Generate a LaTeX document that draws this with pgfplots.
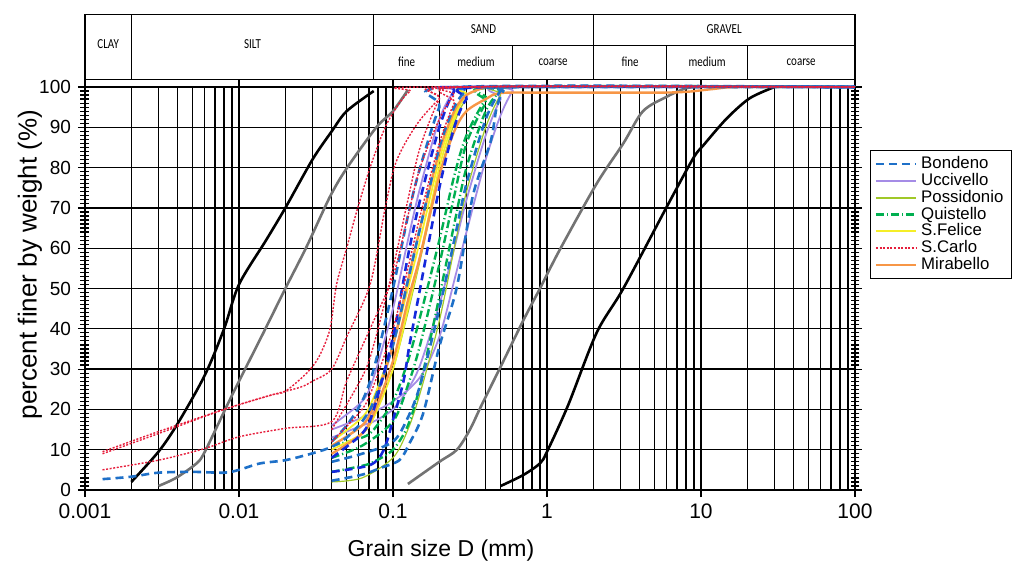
\documentclass[border=0pt]{standalone}
\usepackage{fontspec}
\setmainfont{Liberation Sans}
\newfontfamily\hdrfont{Carlito}
\usepackage{graphicx}
\usepackage{pgfplots}
\pgfplotsset{compat=1.18}
\definecolor{cBon}{RGB}{30,112,200}
\definecolor{cBonDk}{RGB}{20,40,220}
\definecolor{cUcc}{RGB}{165,140,230}
\definecolor{cPos}{RGB}{160,200,40}
\definecolor{cQui}{RGB}{0,175,80}
\definecolor{cSfe}{RGB}{245,238,40}
\definecolor{cSca}{RGB}{230,30,60}
\definecolor{cMir}{RGB}{247,150,70}
\definecolor{cGray}{RGB}{115,115,115}
\tikzset{
 sBon/.style={color=cBon, line width=1.3pt, dash pattern=on 4pt off 2.5pt},
 sBonDk/.style={color=cBonDk, line width=1.3pt, dash pattern=on 4pt off 2.5pt},
 sUcc/.style={color=cUcc, line width=0.9pt},
 sPos/.style={color=cPos, line width=0.6pt},
 sQui/.style={color=cQui, line width=1.2pt, dash pattern=on 4pt off 1.5pt on 0.6pt off 1.5pt},
 sSfe/.style={color=cSfe, line width=0.9pt},
 sSca/.style={color=cSca, line width=0.7pt, dash pattern=on 1pt off 0.8pt},
 sMir/.style={color=cMir, line width=1.2pt},
}
\newcommand{\hdr}[1]{{\hdrfont\fontsize{5.5}{6}\selectfont\scalebox{1}[1.25]{#1}}}
\begin{document}
\begin{tikzpicture}
\begin{axis}[
  scale only axis, width=385pt, height=201.5pt,
  xmode=log, xmin=0.001, xmax=100, ymin=0, ymax=100,
  clip=false,
  xtick={0.001,0.01,0.1,1,10,100},
  xticklabels={0.001,0.01,0.1,1,10,100},
  ytick={0,10,...,100},
  extra y ticks={1,2,...,99},
  extra y tick labels={},
  extra y tick style={ymajorgrids=false, major tick length=4.5pt},
  xmajorgrids, xminorgrids, ymajorgrids,
  major grid style={black, line width=0.65pt},
  minor grid style={black, line width=0.65pt},
  tick align=center, major tick length=7pt, minor tick length=0pt,
  tick style={black, line width=0.6pt},
  axis line style={black, line width=0.8pt},
  /pgf/number format/assume math mode=true,
  yticklabel style={font=\fontsize{9.5}{11}\selectfont},
  xticklabel style={font=\fontsize{10.5}{12}\selectfont},
  xlabel={Grain size D (mm)},
  ylabel={percent finer by weight (\%)},
  xlabel style={font=\fontsize{11.5}{13}\selectfont, at={(axis description cs:0.5,0)}, anchor=center, yshift=-30.5pt, xshift=-14.5pt},
  ylabel style={font=\fontsize{13}{15}\selectfont, at={(axis description cs:0,0.5)}, anchor=center, rotate=0, yshift=27.5pt, xshift=12pt},
  no markers,
  legend style={at={(axis description cs:1.0195,0.8437)}, anchor=north west,
    font=\fontsize{8.4}{8.4}\selectfont, draw=black, line width=0.6pt,
    inner xsep=2pt, inner ysep=1pt, row sep=-3.2pt, cells={anchor=west}},
  legend image code/.code={\draw[#1] (0pt,0pt) -- (20pt,0pt);},
]
\addlegendimage{sBon}\addlegendentry{Bondeno}
\addlegendimage{sUcc, line width=1.2pt}\addlegendentry{Uccivello}
\addlegendimage{sPos, line width=0.8pt}\addlegendentry{Possidonio}
\addlegendimage{sQui}\addlegendentry{Quistello}
\addlegendimage{sSfe, line width=1pt}\addlegendentry{S.Felice}
\addlegendimage{sSca}\addlegendentry{S.Carlo}
\addlegendimage{sMir}\addlegendentry{Mirabello}

% boundary curves
\addplot[black, line width=1.3pt, smooth, tension=0.5, forget plot] coordinates {
(0.002,2)(0.003,9.5)(0.004,16.5)(0.006,28.5)(0.008,40)(0.01,51)(0.015,62)(0.02,70)(0.03,82)(0.04,89)(0.05,94)(0.075,99)};
\addplot[cGray, line width=1.3pt, smooth, tension=0.5, forget plot] coordinates {
(0.003,1)(0.0039,3)(0.0053,6.6)(0.006,9.5)(0.0083,20.7)(0.01,27)(0.0144,39)(0.02,50)(0.0275,60.4)(0.039,72.8)(0.05,79.8)(0.078,90)(0.1,94)(0.125,99.3)};
\addplot[cGray, line width=1.3pt, smooth, tension=0.5, forget plot] coordinates {
(0.125,1.5)(0.2,7)(0.26,10)(0.316,15)(0.37,20.5)(0.5,30.6)(0.7,42)(0.9,50)(1.21,59.6)(2.1,76)(3.13,86)(4.2,94)(6,97.6)(8,99.7)(10,100)};
\addplot[black, line width=1.3pt, smooth, tension=0.5, forget plot] coordinates {
(0.5,1)(0.7,3.7)(0.9,6.6)(1,9.5)(1.37,21)(2.1,39)(3.13,50)(6,70.3)(8.9,82.3)(10.4,85.6)(14.7,92.2)(20.7,97.2)(30,100)};

% Uccivello
\addplot[sUcc, smooth, tension=0.5, forget plot] coordinates {
(0.04,13)(0.063,16)(0.075,17)(0.1,20)(0.125,25)(0.15,31)(0.2,46)(0.25,60)(0.3,72)(0.4,88)(0.5,97)(0.6,100)(100,100)};
\addplot[sUcc, smooth, tension=0.5, forget plot] coordinates {
(0.04,15)(0.063,18)(0.1,22)(0.15,28)(0.2,38)(0.25,52)(0.3,64)(0.4,82)(0.5,93)(0.6,99)(0.7,100)(100,100)};
\addplot[sUcc, smooth, tension=0.5, forget plot] coordinates {
(0.04,16)(0.063,22)(0.075,28)(0.1,45)(0.125,62)(0.15,75)(0.2,92)(0.25,99)(0.3,100)(100,100)};
% Possidonio
\addplot[sPos, smooth, tension=0.5, forget plot] coordinates {
(0.04,2)(0.063,3)(0.1,8)(0.125,15)(0.15,24)(0.2,42)(0.25,60)(0.3,74)(0.4,90)(0.5,98)(0.6,100)(100,100)};
\addplot[sPos, smooth, tension=0.5, forget plot] coordinates {
(0.04,9)(0.063,14)(0.075,18)(0.1,30)(0.125,44)(0.15,57)(0.2,78)(0.25,91)(0.3,97)(0.4,100)(100,100)};
% Quistello
\addplot[sQui, smooth, tension=0.5, forget plot] coordinates {
(0.04,4.5)(0.063,6)(0.075,7)(0.1,10)(0.125,16)(0.15,26)(0.2,48)(0.25,66)(0.3,80)(0.4,94)(0.5,99)(0.6,100)(100,100)};
\addplot[sQui, smooth, tension=0.5, forget plot] coordinates {
(0.04,11)(0.063,13)(0.075,15)(0.1,22)(0.125,32)(0.15,43)(0.2,62)(0.25,78)(0.3,88)(0.4,97)(0.5,100)(100,100)};
\addplot[sQui, smooth, tension=0.5, forget plot] coordinates {
(0.04,8)(0.063,11)(0.1,17)(0.125,26)(0.15,36)(0.2,56)(0.25,73)(0.3,86)(0.4,96)(0.5,100)(100,100)};
% S.Felice
\addplot[sSfe, smooth, tension=0.5, forget plot] coordinates {
(0.04,12)(0.063,18)(0.075,23)(0.1,36)(0.125,50)(0.15,62)(0.2,82)(0.25,93)(0.3,98)(0.4,100)(100,100)};
\addplot[sSfe, smooth, tension=0.5, forget plot] coordinates {
(0.04,10)(0.063,14)(0.075,18)(0.1,30)(0.125,45)(0.15,58)(0.2,80)(0.25,92)(0.3,98)(0.4,100)(100,100)};
% Mirabello
\addplot[sMir, smooth, tension=0.5, forget plot] coordinates {
(0.04,9)(0.063,14)(0.075,19)(0.1,32)(0.125,47)(0.15,58)(0.2,78)(0.25,89)(0.3,94)(0.4,97)(0.5,98.5)(1,98.6)(5,98.6)(8,98.8)(12,99.5)(18,100)(100,100)};
\addplot[sMir, smooth, tension=0.5, forget plot] coordinates {
(0.04,11)(0.063,16)(0.075,21)(0.1,36)(0.125,52)(0.15,65)(0.2,84)(0.25,94)(0.3,98)(0.4,100)};
% Bondeno
\addplot[sBon, smooth, tension=0.5, forget plot] coordinates {
(0.0013,2.7)(0.002,3.3)(0.003,4.3)(0.005,4.5)(0.008,4.3)(0.01,5)(0.0137,6.6)(0.02,7.4)(0.03,9.1)(0.04,10.7)(0.05,13)(0.063,17)(0.075,22)(0.1,36)(0.125,52)(0.15,65)(0.2,85)(0.25,95)(0.3,99)(0.4,100)(100,100)};
\addplot[sBonDk, smooth, tension=0.5, forget plot] coordinates {
(0.04,4.5)(0.071,6.2)(0.087,9.9)(0.1,17.4)(0.117,27)(0.128,36)(0.15,50)(0.2,75)(0.25,90)(0.3,97)(0.4,100)(100,100)};
\addplot[sBon, smooth, tension=0.5, forget plot] coordinates {
(0.04,12)(0.05,16)(0.063,22)(0.075,30)(0.1,50)(0.125,68)(0.15,80)(0.2,95)(0.25,100)(100,100)};
\addplot[sBonDk, smooth, tension=0.5, forget plot] coordinates {
(0.04,8)(0.063,14)(0.075,20)(0.1,38)(0.125,58)(0.15,72)(0.2,90)(0.25,99)(0.3,100)(100,100)};
\addplot[sBon, smooth, tension=0.5, forget plot] coordinates {
(0.04,2.3)(0.063,3.8)(0.082,5.4)(0.11,7.4)(0.128,11.6)(0.157,19)(0.2,35.6)(0.26,50.4)(0.33,73)(0.43,86.4)(0.47,94.7)(0.52,99)(0.6,100)(100,100)};
\addplot[sBon, smooth, tension=0.5, forget plot] coordinates {
(0.04,7)(0.063,9)(0.1,12)(0.125,18)(0.15,26)(0.2,45)(0.25,62)(0.3,76)(0.4,92)(0.5,99)(0.6,100)(100,100)};
% S.Carlo
\addplot[sSca, smooth, tension=0.5, forget plot] coordinates {
(0.0013,9.5)(0.003,14.5)(0.008,20)(0.016,23.5)(0.02,24.5)(0.0275,29)(0.033,33)(0.039,40)(0.043,51)(0.05,60)(0.058,69)(0.071,80)(0.089,90)(0.11,96)(0.13,99)(0.16,100)(100,100)};
\addplot[sSca, smooth, tension=0.5, forget plot] coordinates {
(0.0013,9)(0.003,14)(0.008,20)(0.016,23.5)(0.025,25.5)(0.03,27)(0.04,30)(0.05,38)(0.071,51)(0.089,70)(0.105,81.5)(0.142,90.6)(0.2,97)(0.27,100)(100,100)};
\addplot[sSca, smooth, tension=0.5, forget plot] coordinates {
(0.0013,5)(0.003,7.4)(0.006,10.3)(0.01,13.2)(0.02,15.3)(0.04,17)(0.05,27)(0.071,40)(0.1,53)(0.125,68)(0.15,80)(0.2,92)(0.25,98)(0.3,100)(100,100)};
\addplot[sSca, smooth, tension=0.5, forget plot] coordinates {
(0.04,12)(0.063,20)(0.075,26)(0.1,40)(0.125,55)(0.15,68)(0.2,86)(0.25,96)(0.3,100)(100,100)};
\addplot[sSca, smooth, tension=0.5, forget plot] coordinates {
(0.04,15)(0.063,28)(0.075,36)(0.1,55)(0.125,72)(0.15,85)(0.2,97)(0.25,100)(100,100)};

% header table
\draw[black, line width=0.6pt] (axis cs:0.001,101.8) rectangle (axis cs:100,118);
\draw[black, line width=0.6pt] (axis cs:0.002,101.8) -- (axis cs:0.002,118);
\draw[black, line width=0.6pt] (axis cs:0.075,101.8) -- (axis cs:0.075,118);
\draw[black, line width=0.6pt] (axis cs:2,101.8) -- (axis cs:2,118);
\draw[black, line width=0.6pt] (axis cs:0.075,110.2) -- (axis cs:100,110.2);
\draw[black, line width=0.6pt] (axis cs:0.2,101.8) -- (axis cs:0.2,110.2);
\draw[black, line width=0.6pt] (axis cs:0.6,101.8) -- (axis cs:0.6,110.2);
\draw[black, line width=0.6pt] (axis cs:6,101.8) -- (axis cs:6,110.2);
\draw[black, line width=0.6pt] (axis cs:20,101.8) -- (axis cs:20,110.2);
\node at (axis cs:0.001414,110.6) {\hdr{CLAY}};
\node at (axis cs:0.01225,110.6) {\hdr{SILT}};
\node at (axis cs:0.387,114.3) {\hdr{SAND}};
\node at (axis cs:14.14,114.3) {\hdr{GRAVEL}};
\node at (axis cs:0.1225,106.2) {\hdr{fine}};
\node at (axis cs:0.346,106.2) {\hdr{medium}};
\node at (axis cs:1.095,106.2) {\hdr{coarse}};
\node at (axis cs:3.464,106.2) {\hdr{fine}};
\node at (axis cs:10.95,106.2) {\hdr{medium}};
\node at (axis cs:44.72,106.2) {\hdr{coarse}};
\end{axis}
\pgfresetboundingbox
\path[use as bounding box] ([shift={(-42.5pt,-40pt)}]current axis.south west) rectangle ([shift={(84.5pt,43.5pt)}]current axis.north east);
\end{tikzpicture}
\end{document}
